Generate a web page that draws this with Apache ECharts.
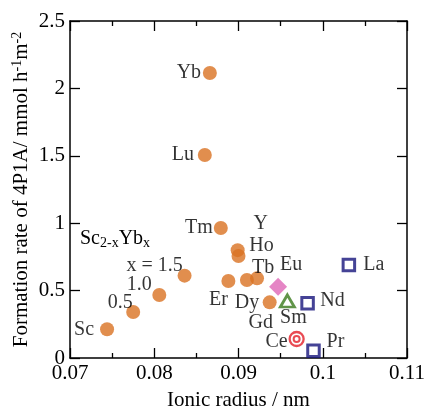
<!DOCTYPE html>
<html><head><meta charset="utf-8">
<script src="https://cdn.jsdelivr.net/npm/echarts@6/dist/echarts.min.js"></script>
<style>html,body{margin:0;padding:0;background:#fff}#c{width:424px;height:410px}</style>
</head><body><div id="c"></div>
<script>
// Orange circles (Sc, Sc2-xYbx, Ln, Y)
const lnNames = ['Sc','0.5','1.0','x = 1.5','Lu','Yb','Tm','Y','Ho','Er','Dy','Tb','Gd'];
const lnRadius = [0.0744,0.0775,0.0806,0.0836,0.0860,0.0866,0.0879,0.0899,0.0900,0.0888,0.0910,0.0922,0.0937];
const lnRate   = [0.213,0.341,0.467,0.611,1.506,2.114,0.964,0.800,0.757,0.571,0.579,0.591,0.413];
// Other markers
const euPoint = [0.0947, 0.529];
const smPoint = [0.0958, 0.423];
const cePoint = [0.0969, 0.141];
const sqNames = ['Nd','Pr','La'];
const sqRadius = [0.0982, 0.0989, 0.1031];
const sqRate = [0.406, 0.054, 0.690];
// Axis ticks
const xTicks = [0.07,0.08,0.09,0.1,0.11];
const yTicks = [0,0.5,1,1.5,2,2.5];

// label offsets (style)
const lnLabelOffsets = [[-23,0],[-13,-9],[-20,-10],[-30,-10],[-22,0],[-21,0],[-22,0],[23,-26],[23,-10],[-10,19],[0,23],[6,-11],[-9,20]];
const sqLabelOffsets = [[25,-3],[22,-9],[25,0]];

const FONT = 'Liberation Serif';
const C_OR = '#da7222', C_NV = '#16147c', C_GR = '#3a7a1c', C_PK = '#df66b6', C_RD = '#e41e28';
const TXT = '#000';

const lbl = (off) => ({show:true, position:'inside', offset:off, formatter:'{b}', color:TXT, fontFamily:FONT, fontSize:20, align:'center', verticalAlign:'middle'});

const lnData = lnNames.map((n,i)=>({value:[lnRadius[i], lnRate[i]], name:n, label:lbl(lnLabelOffsets[i])}));
const sqData = sqNames.map((n,i)=>({value:[sqRadius[i], sqRate[i]], name:n, label:lbl(sqLabelOffsets[i])}));

const axisCommon = {
  axisLine:{show:true, onZero:false, lineStyle:{color:'#000', width:1.5}},
  axisTick:{show:true, inside:true, length:10, lineStyle:{color:'#000', width:1.3}},
  splitLine:{show:false},
};
const xFmt = v => { const r = Math.round(v*1000)/1000; return xTicks.some(t=>Math.abs(t-r)<1e-9) ? String(r) : ''; };

const option = {
  animation:false,
  grid:{left:70, right:17, top:21, bottom:52, containLabel:false, outerBoundsMode:'none'},
  xAxis:[
    Object.assign({type:'value', min:0.07, max:0.11, interval:0.01, position:'bottom',
      minorTick:{show:true, splitNumber:2, length:5, lineStyle:{color:'#000', width:1.3}},
      axisLabel:{formatter:xFmt, color:TXT, fontFamily:FONT, fontSize:21, margin:5},
      name:'Ionic radius / nm', nameLocation:'middle', nameGap:32, nameMoveOverlap:false,
      nameTextStyle:{color:TXT, fontFamily:FONT, fontSize:21}}, axisCommon),
    Object.assign({type:'value', min:0.07, max:0.11, interval:0.01, position:'top',
      minorTick:{show:true, splitNumber:2, length:5, lineStyle:{color:'#000', width:1.3}},
      axisLabel:{show:false}}, axisCommon)
  ],
  yAxis:[
    Object.assign({type:'value', min:0, max:2.5, interval:0.5, position:'left',
      axisLabel:{color:TXT, fontFamily:FONT, fontSize:21, margin:5, formatter:v=>String(v)},
      name:'{n|Formation rate of 4P1A/ mmol h}{s|-1}{n|m}{s|-2}', nameLocation:'middle', nameGap:37, nameRotate:90, nameMoveOverlap:false,
      nameTextStyle:{color:TXT, fontFamily:FONT, fontSize:21,
        rich:{n:{fontFamily:FONT, fontSize:21, color:TXT}, s:{fontFamily:FONT, fontSize:14, color:TXT, padding:[0,0,9,0]}}}}, axisCommon),
    Object.assign({type:'value', min:0, max:2.5, interval:0.5, position:'right', axisLabel:{show:false}}, axisCommon)
  ],
  series:[
    {type:'scatter', symbol:'circle', symbolSize:14, itemStyle:{color:C_OR}, data:lnData, z:3},
    {type:'scatter', symbol:'diamond', symbolSize:18, itemStyle:{color:C_PK},
      data:[{value:euPoint, name:'Eu', label:lbl([13,-22])}], z:3},
    {type:'scatter', symbol:'triangle', symbolSize:[14,12], itemStyle:{color:'#fff', borderColor:C_GR, borderWidth:2.8},
      data:[{value:smPoint, name:'Sm', label:lbl([6,17])}], z:3},
    {type:'scatter', symbol:'rect', symbolSize:11.5, itemStyle:{color:'#fff', borderColor:C_NV, borderWidth:3}, data:sqData, z:3},
    {type:'scatter', symbol:'circle', symbolSize:14, itemStyle:{color:'#fff', borderColor:C_RD, borderWidth:2.3},
      data:[{value:cePoint, name:'Ce', label:lbl([-20,3])}], z:3},
    {type:'scatter', symbol:'circle', symbolSize:6, itemStyle:{color:'#fff', borderColor:C_RD, borderWidth:2},
      data:[{value:cePoint}], z:4, silent:true}
  ],
  graphic:[
    {type:'text', left:80, top:229, style:{text:'{n|Sc}{b|2-x}{n|Yb}{b|x}', fill:TXT,
      rich:{n:{fontFamily:FONT, fontSize:20, fill:TXT}, b:{fontFamily:FONT, fontSize:14, fill:TXT, padding:[9,0,0,0]}}}}
  ]
};
const chart = echarts.init(document.getElementById('c'), null, {renderer:'canvas'});
chart.setOption(option);
</script></body></html>
